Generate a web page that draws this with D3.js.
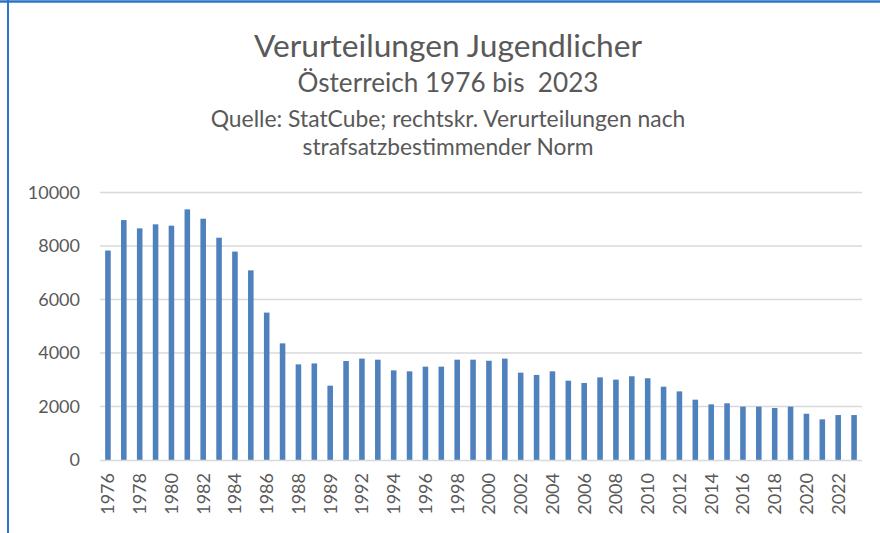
<!DOCTYPE html>
<html><head><meta charset="utf-8">
<script src="https://cdn.jsdelivr.net/npm/d3@7"></script>
<style>
html,body{margin:0;padding:0;background:#fff;}
svg{display:block;}
text{font-family:Lato,"Noto Sans",sans-serif;fill:#595959;}
</style></head>
<body>
<svg id="chart" width="880" height="533"></svg>
<script>
// ---- data ----
const categories = ["1976","1977","1978","1979","1980","1981","1982","1983","1984","1985",
  "1986","1987","1988","1989","1989","1991","1992","1993","1994","1995","1996","1997","1998","1999",
  "2000","2001","2002","2003","2004","2005","2006","2007","2008","2009","2010","2011","2012","2013",
  "2014","2015","2016","2017","2018","2019","2020","2021","2022","2023"];
const values = [7830,8970,8660,8810,8760,9370,9020,8310,7790,7090,
  5510,4360,3575,3610,2780,3700,3790,3750,3350,3315,3490,3490,3750,3750,
  3710,3790,3265,3180,3315,2965,2880,3090,3005,3130,3055,2740,2565,2255,
  2080,2120,1995,1995,1945,1995,1730,1520,1680,1680];
const yTicks = [0,2000,4000,6000,8000,10000];
const titleLines = ["Verurteilungen Jugendlicher","Österreich 1976 bis  2023",
  "Quelle: StatCube; rechtskr. Verurteilungen nach","strafsatzbestimmender Norm"];

const svg = d3.select("#chart");
const W = 880, H = 533;
const m = {left:100, right:18, top:192.5, bottom:73};
const x0 = m.left, x1 = W - m.right, y0 = H - m.bottom, y1 = m.top;

const idx = categories.map((d,i)=>i);
const x = d3.scaleBand().domain(idx).range([x0,x1]).paddingInner(0.65).paddingOuter(0.325);
const y = d3.scaleLinear().domain([0,10000]).range([y0,y1]);

// frame (selection border)
svg.append("line").attr("x1",0).attr("x2",W).attr("y1",1.5).attr("y2",1.5)
  .attr("stroke","#2E74C4").attr("stroke-width",2.5);
svg.append("line").attr("x1",8).attr("x2",8).attr("y1",0).attr("y2",H)
  .attr("stroke","#2E74C4").attr("stroke-width",2);

// gridlines
svg.append("g").selectAll("line").data(yTicks.filter(t=>t>0)).join("line")
  .attr("x1",x0).attr("x2",x1).attr("y1",d=>y(d)).attr("y2",d=>y(d))
  .attr("stroke","#D9D9D9").attr("stroke-width",1.5);

// y axis
const ya = svg.append("g").attr("transform",`translate(${x0},0)`)
  .call(d3.axisLeft(y).tickValues(yTicks).tickSize(0).tickPadding(20).tickFormat(d3.format("d")));
ya.select(".domain").remove();
ya.selectAll("text").style("font-size","18px").attr("fill","#595959");

// bars
svg.append("g").selectAll("rect").data(values).join("rect")
  .attr("x",(d,i)=>x(i)).attr("width",x.bandwidth())
  .attr("y",d=>y(d)).attr("height",d=>y(0)-y(d))
  .attr("fill","#4F81BD");

// x axis
const xa = svg.append("g").attr("transform",`translate(0,${y0})`)
  .call(d3.axisBottom(x).tickValues(idx.filter(i=>i%2===0)).tickSize(0)
    .tickFormat(i=>categories[i]));
xa.select(".domain").attr("stroke","#D9D9D9").attr("stroke-width",1.5)
  .attr("d",`M${x0},0.5H${x1}`);
xa.selectAll("text").style("font-size","18px").attr("fill","#595959")
  .attr("transform","rotate(-90)").attr("text-anchor","end")
  .attr("x",-13).attr("y",0).attr("dy","0.35em");

// titles
const tspecs = [
  {t:titleLines[0], y:57, w:388},
  {t:titleLines[1], y:92, w:301},
  {t:titleLines[2], y:127, w:475},
  {t:titleLines[3], y:155, w:291}
];
tspecs.forEach(s=>{
  const el = svg.append("text").attr("x",448).attr("y",s.y).attr("text-anchor","middle")
    .style("white-space","pre").style("font-size","20px").text(s.t);
  const len = el.node().getComputedTextLength();
  el.style("font-size",(20*s.w/len).toFixed(2)+"px");
});
</script>
</body></html>
